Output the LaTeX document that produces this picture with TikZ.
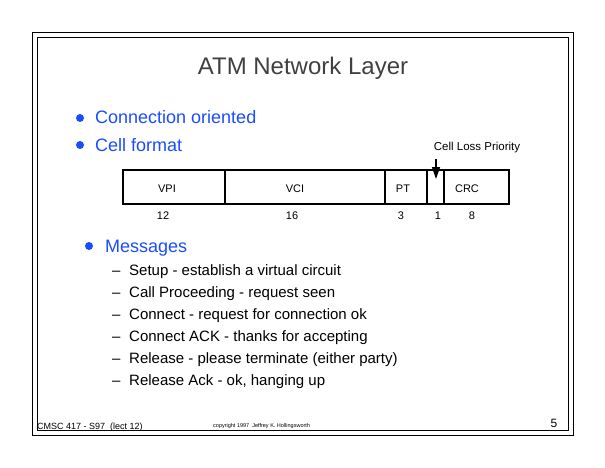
\documentclass[tikz,border=0pt]{standalone}
\usepackage{fontspec}
\setmainfont{Liberation Sans}
\usetikzlibrary{arrows.meta}
\definecolor{slideblue}{RGB}{26,76,255}
\definecolor{titlegray}{RGB}{64,64,64}

\begin{document}
\begin{tikzpicture}[x=1pt, y=-1pt, inner sep=0pt,
  field/.style={draw, line width=1.6pt},
  bits/.style={anchor=base, font=\fontsize{11}{13}\selectfont},
  point/.style={anchor=base west, text=slideblue, font=\fontsize{18}{22}\selectfont},
  item/.style={anchor=base west, font=\fontsize{15}{18}\selectfont}]
  \useasboundingbox (0,0) rectangle (605,468);
  \draw [line width=0.9pt] (32,32) rectangle (573,435);
  \draw [line width=0.9pt] (37,37) rectangle (568,430);
  \node[text=titlegray, font=\fontsize{24}{28}\selectfont] (title) at (303,68) {ATM Network Layer};
  % top level points
  \fill [slideblue] (80,118) circle [radius=4];
  \node[point] (conn) at (95,124) {Connection oriented};
  \fill [slideblue] (80,145) circle [radius=4];
  \node[point] (cell) at (95,151) {Cell format};
  % cell header
  \draw [field] (123,170) rectangle (509,204);
  \foreach \x in {225,385,427,444} \draw [field] (\x,170) -- (\x,204);
  \foreach \name/\x in {VPI/167, VCI/295, PT/403, CRC/467}
    \node[bits] (f\name) at (\x,193) {\name};
  \foreach \n/\x in {12/163, 16/292, 3/401, 1/438, 8/472}
    \node[bits] (w\n) at (\x,219) {\n};
  \node[anchor=base, font=\fontsize{11.5}{13}\selectfont] (clp) at (477,150) {Cell Loss Priority};
  \coordinate (clptop) at (436,159);
  \coordinate (clpbot) at (436,179);
  \draw [line width=1.3pt, -{Triangle[length=12pt,width=8pt]}] (clptop) -- (clpbot);
  % messages
  \fill [slideblue] (89,246) circle [radius=4];
  \node[point] (msg) at (105,252) {Messages};
  \foreach \y/\txt [count=\i] in {275/{Setup - establish a virtual circuit},
      297/{Call Proceeding - request seen},
      319/{Connect - request for connection ok},
      341/{Connect ACK - thanks for accepting},
      363/{Release - please terminate (either party)},
      385/{Release Ack - ok, hanging up}} {
    \node[item] (d\i) at (112,\y) {--};
    \node[item] (m\i) at (129,\y) {\txt};
  }
  % footer
  \node[anchor=base west, font=\fontsize{9}{10}\selectfont] (course) at (37,429) {CMSC 417 - S97\ \ (lect 12)};
  \node[anchor=base west, font=\fontsize{5.5}{6}\selectfont] (copy) at (213,427) {copyright 1997\ \ Jeffrey K. Hollingsworth};
  \node[anchor=base, font=\fontsize{12}{13}\selectfont] (page) at (554,427) {5};
\end{tikzpicture}
\end{document}
